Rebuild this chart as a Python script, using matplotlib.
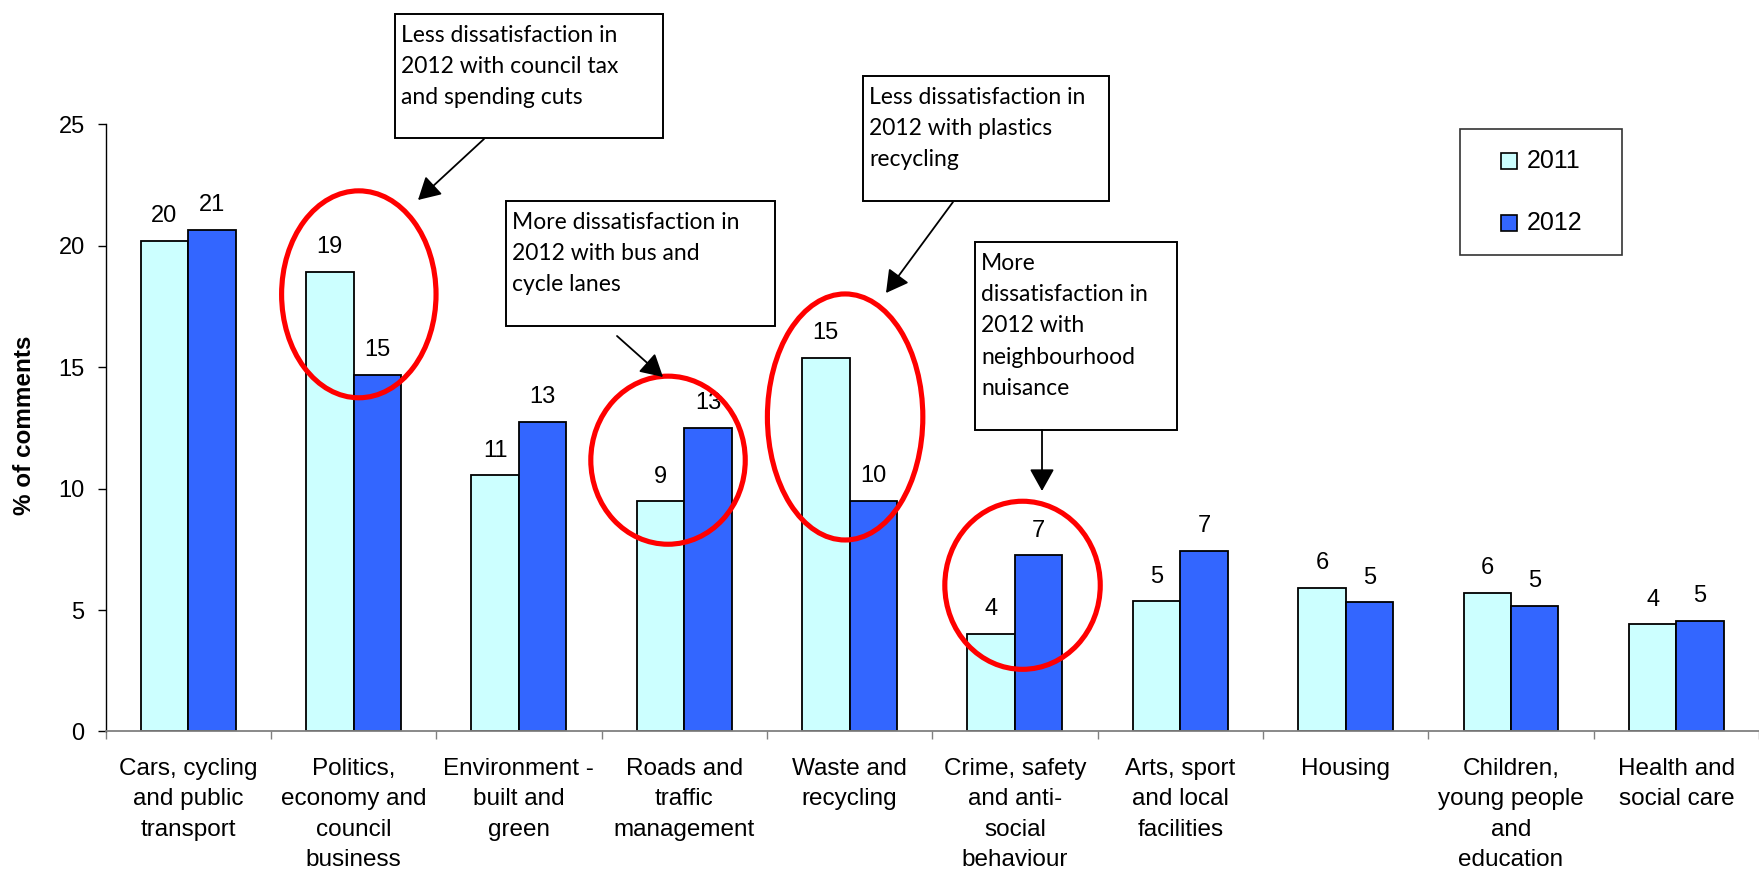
import matplotlib
matplotlib.use("Agg")
import matplotlib.pyplot as plt
import matplotlib.transforms as mtransforms
from matplotlib.patches import Ellipse, Rectangle, FancyArrowPatch
import numpy as np

# share of comments by topic, survey years 2011 and 2012
categories = [
    "Cars, cycling\nand public\ntransport",
    "Politics,\neconomy and\ncouncil\nbusiness",
    "Environment -\nbuilt and\ngreen",
    "Roads and\ntraffic\nmanagement",
    "Waste and\nrecycling",
    "Crime, safety\nand anti-\nsocial\nbehaviour",
    "Arts, sport\nand local\nfacilities",
    "Housing",
    "Children,\nyoung people\nand\neducation",
    "Health and\nsocial care",
]
pct_2011 = [20.2, 18.93, 10.55, 9.47, 15.37, 4.02, 5.36, 5.92, 5.70, 4.41]
pct_2012 = [20.65, 14.68, 12.74, 12.51, 9.51, 7.25, 7.44, 5.32, 5.16, 4.56]
years = ["2011", "2012"]
yticks = [0, 5, 10, 15, 20, 25]

notes = [
    "Less dissatisfaction in\n2012 with council tax\nand spending cuts",
    "More dissatisfaction in\n2012 with bus and\ncycle lanes",
    "Less dissatisfaction in\n2012 with plastics\nrecycling",
    "More\ndissatisfaction in\n2012 with\nneighbourhood\nnuisance",
]
# highlighted category pairs: (x centre, y centre, width, height) in data units
circles = [
    (1.032, 18.0, 0.934, 8.52),
    (2.902, 11.17, 0.934, 6.92),
    (3.973, 12.95, 0.94, 10.13),
    (5.046, 6.02, 0.94, 6.92),
]

W, H = 1759, 870
plt.rcParams["font.family"] = ["Liberation Sans", "DejaVu Sans"]
note_font = ["Lato", "DejaVu Sans"]

fig = plt.figure(figsize=(W / 100 + 1e-4, H / 100 + 1e-4), dpi=100)
x0, y0, ytop, cat_w = 105.5, 731.5, 124.3, 167.0
ax = fig.add_axes([x0 / W, 1 - y0 / H, 1 - x0 / W, (y0 - ytop) / H])
# pixel coordinates measured from the top-left corner of the figure
pix = mtransforms.Affine2D().scale(1 / W, -1 / H).translate(0, 1) + fig.transFigure

x = np.arange(len(categories))
bw = 0.287
colors = ["#CCFFFF", "#3366FF"]
ax.bar(x, pct_2011, -bw, align="edge", color=colors[0], edgecolor="black", linewidth=1.3)
ax.bar(x, pct_2012, bw, align="edge", color=colors[1], edgecolor="black", linewidth=1.3)

for xs, vals in ((x - bw / 2, pct_2011), (x + bw / 2, pct_2012)):
    for xi, v in zip(xs, vals):
        ax.annotate(f"{v:.0f}", (xi, v), xytext=(0, 13.5), textcoords="offset points",
                    ha="center", va="baseline", fontsize=17)

ax.set_xlim(-0.5, -0.5 + (W - x0) / cat_w)
ax.set_ylim(0, 25)
ax.set_yticks(yticks)
ax.tick_params(axis="y", labelsize=17, length=6, width=1, pad=9)
ax.set_xticks(x)
ax.set_xticklabels(categories, fontsize=17.5, linespacing=1.5)
ax.tick_params(axis="x", which="major", length=0, pad=19)
ax.set_xticks(np.arange(-0.5, len(categories)), minor=True)
ax.tick_params(axis="x", which="minor", length=6, width=1, color="#808080")
for s in ("top", "right"):
    ax.spines[s].set_visible(False)
ax.spines["bottom"].set_color("#808080")
ax.spines["bottom"].set_linewidth(1.3)
ax.spines["left"].set_linewidth(1)

fig.text(24 / W, 1 - 425 / H, "% of comments", rotation=90, ha="center", va="center",
         fontsize=17.5, fontweight="bold")

for cx, cy, ew, eh in circles:
    ax.add_patch(Ellipse((cx, cy), ew, eh, fill=False, edgecolor="#FF0000",
                         linewidth=3.7, clip_on=False, zorder=5))

# legend box
fig.add_artist(Rectangle((1460, 129), 162, 126, transform=pix, fill=False,
                         edgecolor="#333333", linewidth=1.2))
for i, (yr, c) in enumerate(zip(years, colors)):
    yc = 161 + i * 62
    fig.add_artist(Rectangle((1501, yc - 8), 16, 16, transform=pix, facecolor=c,
                             edgecolor="black", linewidth=1.2))
    fig.text(1527, yc, yr, transform=pix, ha="left", va="center", fontsize=18)

# note boxes: left, top, right, bottom
boxes = [(395, 14, 663, 138), (506, 201, 775, 326), (863, 76, 1109, 201), (975, 242, 1177, 430)]
for (l, t, r, b), txt in zip(boxes, notes):
    fig.add_artist(Rectangle((l, t), r - l, b - t, transform=pix, facecolor="white",
                             edgecolor="black", linewidth=1.4, zorder=6))
    fig.text(l + 6, t + 11, txt, transform=pix, ha="left", va="top", fontsize=16.5,
             family=note_font, linespacing=1.6, zorder=7)

arrows = [((484, 139), (418, 200)), ((617, 336), (663, 377)),
          ((953, 202), (886, 293)), ((1042, 430), (1042, 491))]
for start, tip in arrows:
    fig.add_artist(FancyArrowPatch(start, tip, transform=pix, arrowstyle="-|>,head_length=0.68,head_width=0.38",
                                   mutation_scale=20, shrinkA=0, shrinkB=0, color="black",
                                   linewidth=1.3, zorder=7))

fig.savefig("out.png", dpi=100)
